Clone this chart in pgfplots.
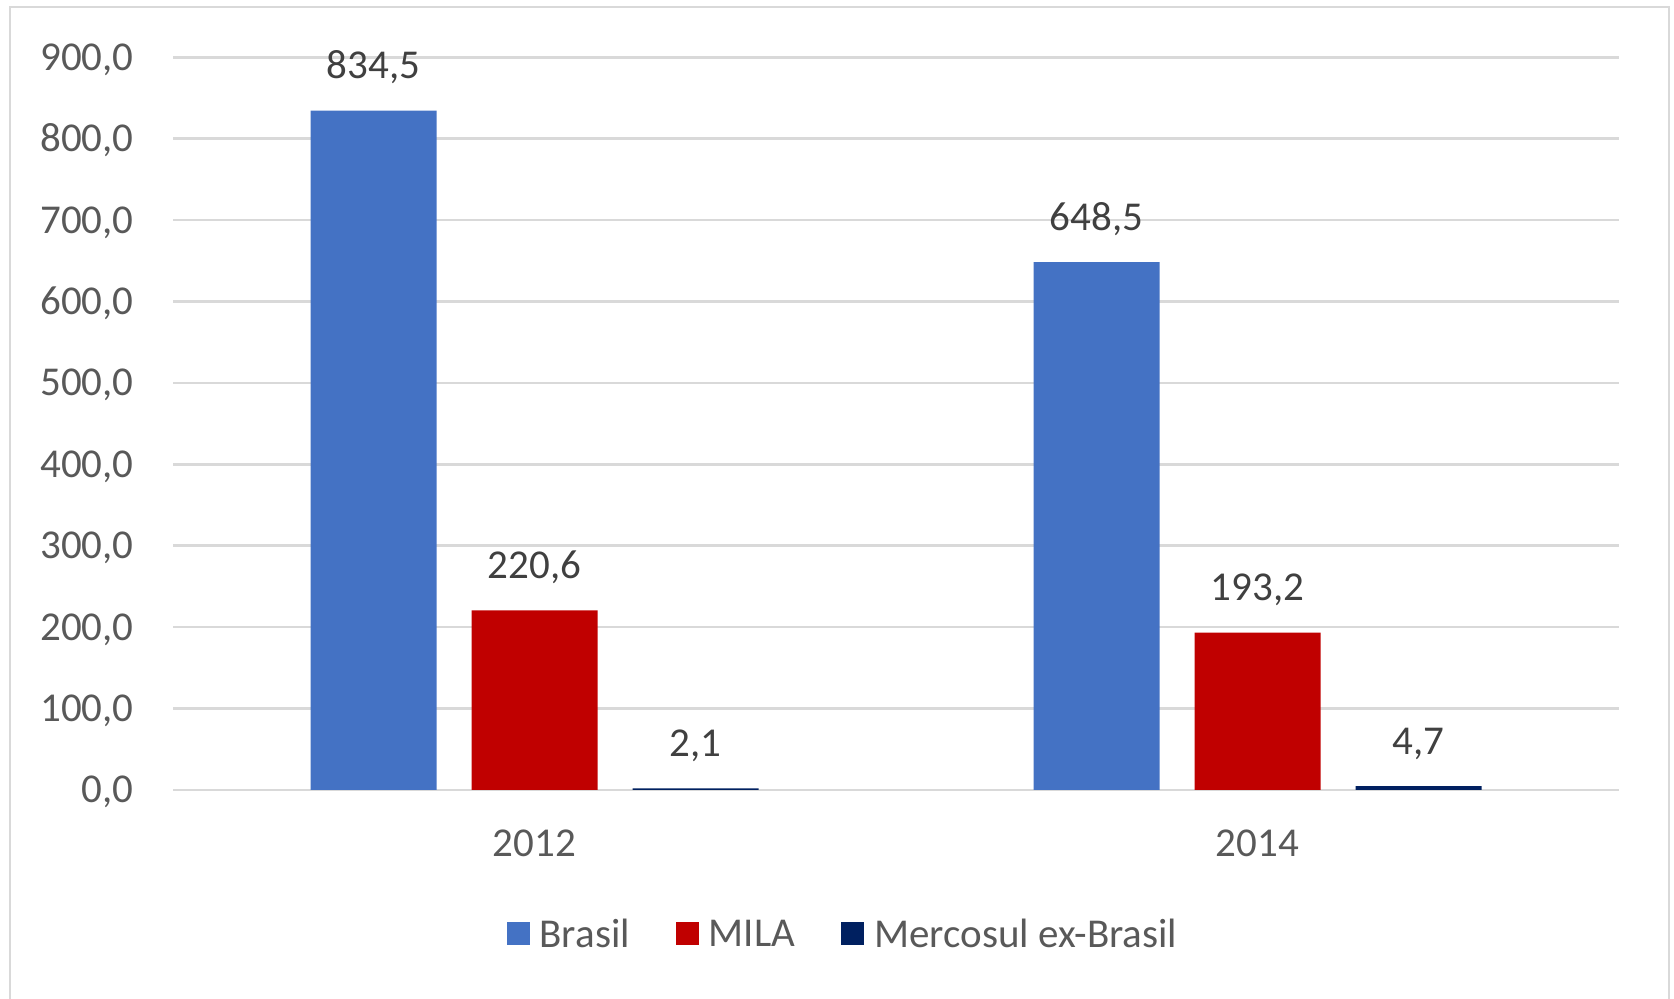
\documentclass[border=0pt]{standalone}
\usepackage{fontspec}
\setmainfont{Carlito}
\usepackage{pgfplots}
\pgfplotsset{compat=1.18}
\definecolor{cBr}{HTML}{4472C4}
\definecolor{cMi}{HTML}{C00000}
\definecolor{cMe}{HTML}{002060}
\definecolor{cGrid}{HTML}{D9D9D9}
\definecolor{cTick}{HTML}{595959}
\definecolor{cLab}{HTML}{404040}
\newcommand\cf{\fontsize{20.5}{24}\selectfont}
\begin{document}
\begin{tikzpicture}
\useasboundingbox (0,0) rectangle (837pt,499.5pt);
\clip (0,0) rectangle (837pt,499.5pt);
\draw[cGrid, line width=1.35pt] (5pt,-10pt) -- (5pt,496pt) -- (834.5pt,496pt) -- (834.5pt,-10pt);
\begin{axis}[
  at={(86.5pt,104.5pt)}, anchor=south west,
  scale only axis, width=723pt, height=366.35pt,
  xmin=-0.5, xmax=1.5, ymin=0, ymax=900,
  xtick={0,1}, xticklabels={2012,2014},
  ytick={0,100,...,900},
  ymajorgrids, grid style={cGrid, line width=1.3pt},
  axis line style={draw=none},
  major tick length=0pt,
  clip=false,
  ybar, bar width=63pt,
  /pgf/number format/fixed,
  /pgf/number format/fixed zerofill,
  /pgf/number format/precision=1,
  /pgf/number format/use comma,
  /pgf/number format/assume math mode=true,
  tick label style={font=\cf},
  yticklabel style={anchor=base east, inner sep=0pt, xshift=-19.5pt, yshift=-6.5pt, text=cTick},
  xticklabel style={anchor=base, inner sep=0pt, yshift=-33.5pt, text=cTick},
  nodes near coords,
  every node near coord/.append style={font=\cf, anchor=base, inner sep=0pt, yshift=16pt, text=cLab},
  legend style={at={(0.4661,-0.1975)}, anchor=center, draw=none, fill=none, font=\cf, text=cTick,
    legend columns=3,
    /tikz/every even column/.append style={column sep=18pt},
    nodes={inner sep=0pt, inner xsep=5pt}},
  legend image code/.code={\fill[#1] (0pt,-5.2pt) rectangle (11.5pt,6.3pt);},
]
\addplot[fill=cBr, draw=none, bar shift=-80.5pt] coordinates {(0,834.5) (1,648.5)};
\addplot[fill=cMi, draw=none, bar shift=0pt] coordinates {(0,220.6) (1,193.2)};
\addplot[fill=cMe, draw=none, bar shift=80.5pt] coordinates {(0,2.1) (1,4.7)};
\legend{Brasil, MILA, Mercosul ex-Brasil}
\end{axis}
\end{tikzpicture}
\end{document}
